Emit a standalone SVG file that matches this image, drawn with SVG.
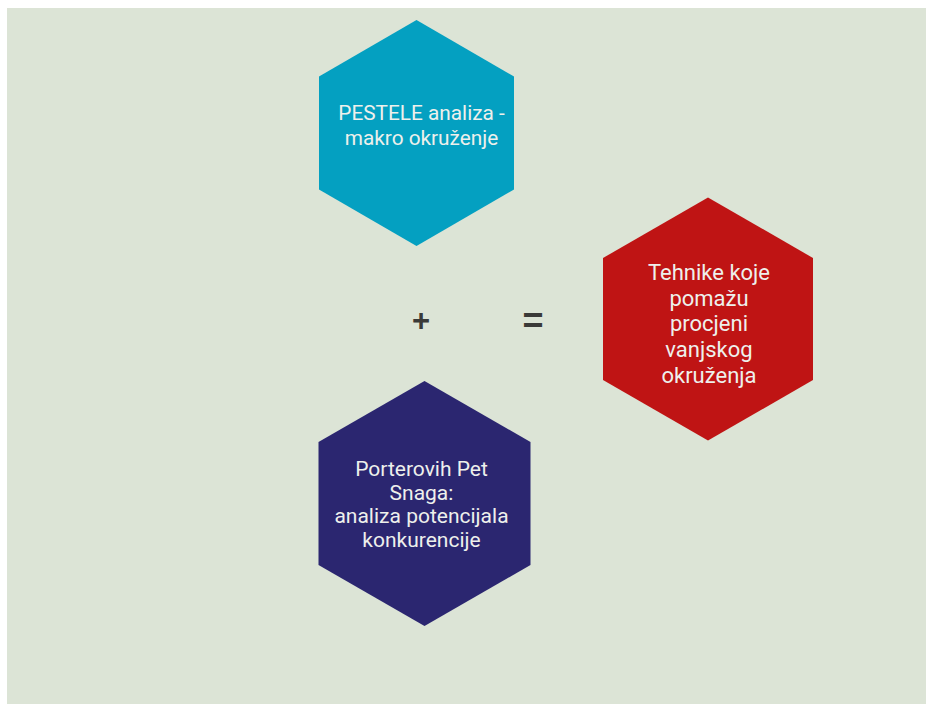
<svg xmlns="http://www.w3.org/2000/svg" width="926" height="704" viewBox="0 0 926 704">
<style>
.lbl{font-family:Roboto,"Liberation Sans",Arial,sans-serif;font-size:21px;fill:#eef0ec;text-anchor:middle}
.op{font-family:"Liberation Sans",Arial,sans-serif;font-weight:bold;fill:#3a3a38;text-anchor:middle}
</style>
<rect x="0" y="0" width="926" height="704" fill="#ffffff"/>
<rect x="7" y="8" width="919" height="696" fill="#dce4d6"/>
<g id="pestele">
<polygon points="416.5,20 514,76.5 514,189.5 416.5,246 319,189.5 319,76.5" fill="#04a0c1"/>
<text class="lbl" style="font-size:20.8px"><tspan x="421.5" y="120">PESTELE analiza -</tspan><tspan x="421.5" y="145">makro okruženje</tspan></text>
</g>
<g id="tehnike">
<polygon points="708,197.5 813,258 813,380 708,440.5 603,380 603,258" fill="#bf1414"/>
<text class="lbl" style="font-size:22px"><tspan x="709" y="279.5">Tehnike koje</tspan><tspan x="709" y="305.5">pomažu</tspan><tspan x="709" y="331">procjeni</tspan><tspan x="709" y="357">vanjskog</tspan><tspan x="709" y="382.5">okruženja</tspan></text>
</g>
<g id="porter">
<polygon points="424.5,381 530.5,442 530.5,565 424.5,626 318.5,565 318.5,442" fill="#2b2670"/>
<text class="lbl" style="font-size:21px"><tspan x="421.5" y="476">Porterovih Pet</tspan><tspan x="421.5" y="499.5">Snaga:</tspan><tspan x="421.5" y="523">analiza potencijala</tspan><tspan x="421.5" y="546.5">konkurencije</tspan></text>
</g>
<g id="operators">
<text class="op" x="421" y="331" style="font-size:31px">+</text>
<text class="op" x="533" y="333" style="font-size:36px">=</text>
</g>
</svg>
